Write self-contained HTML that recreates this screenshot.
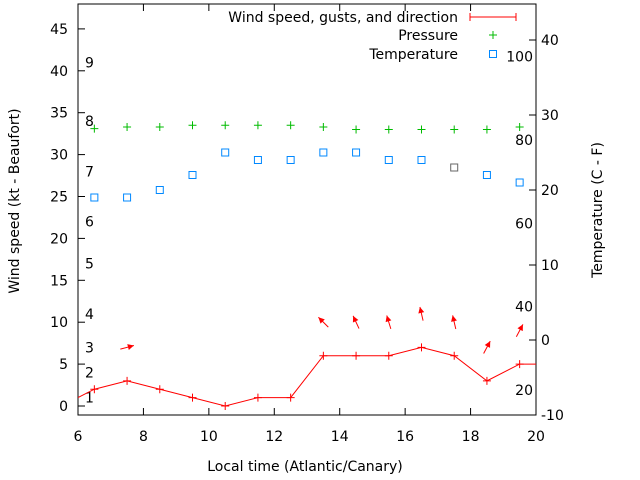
<!DOCTYPE html>
<html><head><meta charset="utf-8"><style>
body{margin:0;background:#fff}
svg{display:block;font-family:"DejaVu Sans","Liberation Sans",sans-serif;font-size:14px}
</style></head><body>
<svg id="c" width="640" height="480"></svg>
<script>
const hours=[5.5,6.5,7.5,8.5,9.5,10.5,11.5,12.5,13.5,14.5,15.5,16.5,17.5,18.5,19.5,20.5];
const wind=[0,2,3,2,1,0,1,1,6,6,6,7,6,3,5,5];
const ptHours=[6.5,7.5,8.5,9.5,10.5,11.5,12.5,13.5,14.5,15.5,16.5,17.5,18.5,19.5];
const pressure=[33.1,33.3,33.3,33.5,33.5,33.5,33.5,33.3,33.0,33.0,33.0,33.0,33.0,33.3];
const temperature=[19,19,20,22,25,24,24,25,25,24,24,23,22,21];
const arrowHours=[7.5,13.5,14.5,15.5,16.5,17.5,18.5,19.5];
const arrowWind=[3,6,6,6,7,6,3,5];
const arrowHeading=[75,315,335,343,347,347,28,28];
const xTicks=[6,8,10,12,14,16,18,20];
const yTicks=[0,5,10,15,20,25,30,35,40,45];
const y2Ticks=[-10,0,10,20,30,40];
const beaufort=[1,2,3,4,5,6,7,8,9];
const beaufortAt=[1.0,4.0,7.0,11.0,17.0,22.0,28.0,34.0,41.0];
const fahr=[20,40,60,80,100];

const L=78,R=536,T=4,B=415;
const X=v=>L+(v-6)/14*(R-L);
const Y=v=>406-v*8.38;
const Y2=v=>340-v*7.5;
const s=document.getElementById('c');
const NS='http://www.w3.org/2000/svg';
function el(t,a,p){const e=document.createElementNS(NS,t);for(const k in a)e.setAttribute(k,a[k]);(p||s).appendChild(e);return e;}
function txt(x,y,str,anchor,name){const e=el('text',{x:x,y:y,'text-anchor':anchor||'start',fill:'#000'});e.textContent=str;

return e;}

const defs=el('defs',{});const cp=el('clipPath',{id:'pc'},defs);el('rect',{x:L,y:T,width:R-L,height:B-T},cp);

const fr=el('rect',{x:L,y:T,width:R-L,height:B-T,fill:'none',stroke:'#000','stroke-width':1});



xTicks.forEach(v=>{
  el('line',{x1:X(v),x2:X(v),y1:B,y2:B-7,stroke:'#000'});
  el('line',{x1:X(v),x2:X(v),y1:T,y2:T+7,stroke:'#000'});
  txt(X(v),441,String(v),'middle','x-tick-label');
});
yTicks.forEach(v=>{
  el('line',{x1:L,x2:L+7,y1:Y(v),y2:Y(v),stroke:'#000'});
  txt(L-10,Y(v)+5,String(v),'end','y-tick-label');
});
y2Ticks.forEach(v=>{
  el('line',{x1:R,x2:R-7,y1:Y2(v),y2:Y2(v),stroke:'#000'});
  txt(R+5,Y2(v)+5,String(v),'start','y2-tick-label');
});
beaufort.forEach((b,i)=>txt(85,Y(beaufortAt[i])+5,String(b),'start','beaufort-label'));
fahr.forEach(f=>txt(R-3,Y2((f-32)*5/9)+5,String(f),'end','fahrenheit-label'));

const g=el('g',{'clip-path':'url(#pc)'});


const pl=el('polyline',{points:hours.map((h,i)=>X(h)+','+Y(wind[i])).join(' '),fill:'none',stroke:'#f00','stroke-width':1},g);


hours.forEach((h,i)=>{const x=X(h),y=Y(wind[i]);
  const p=el('path',{d:`M${x-4},${y}H${x+4}M${x},${y-4}V${y+4}`,stroke:'#f00'},g);
  
  
});
ptHours.forEach((h,i)=>{const x=X(h),y=Y(pressure[i]);
  const p=el('path',{d:`M${x-4},${y}H${x+4}M${x},${y-4}V${y+4}`,stroke:'#0b0'},g);
  
  
});
ptHours.forEach((h,i)=>{const x=X(h),y=Y2(temperature[i]);
  const r=el('rect',{x:x-3.5,y:y-3.5,width:7,height:7,fill:'none',stroke:i==11?'#666':'#08f'},g);
  
  
});
arrowHours.forEach((h,i)=>{
  const cx=X(h),cy=Y(arrowWind[i]+4),a=arrowHeading[i]*Math.PI/180;
  const dx=Math.sin(a)*7,dy=-Math.cos(a)*7;
  const x1=cx-dx,y1=cy-dy,x2=cx+dx,y2=cy+dy;
  const ux=dx/7,uy=dy/7;
  const hx=x2-ux*6,hy=y2-uy*6;
  const ag=el('g',{},g);
  
  
  el('line',{x1:x1,y1:y1,x2:x2,y2:y2,stroke:'#f00'},ag);
  el('polygon',{points:`${x2},${y2} ${hx-uy*3},${hy+ux*3} ${hx+uy*3},${hy-ux*3}`,fill:'#f00'},ag);
});

const lg=el('g',{});


txt(458,22,'Wind speed, gusts, and direction','end','legend-wind-label');
el('path',{d:'M470,17H516M470,13V21M516,13V21',stroke:'#f00'},lg);
txt(458,40,'Pressure','end','legend-pressure-label');
el('path',{d:'M489,35H497M493,31V39',stroke:'#0b0'},lg);
txt(458,59,'Temperature','end','legend-temperature-label');
el('rect',{x:489.5,y:50.5,width:7,height:7,fill:'none',stroke:'#08f'},lg);

txt(305,471,'Local time (Atlantic/Canary)','middle','x-axis-title');
const yt=txt(0,0,'Wind speed (kt - Beaufort)','middle','y-axis-title');
yt.setAttribute('transform','translate(19,201) rotate(-90)');
const yt2=txt(0,0,'Temperature (C - F)','middle','y2-axis-title');
yt2.setAttribute('transform','translate(602,210) rotate(-90)');
</script>
</body></html>
